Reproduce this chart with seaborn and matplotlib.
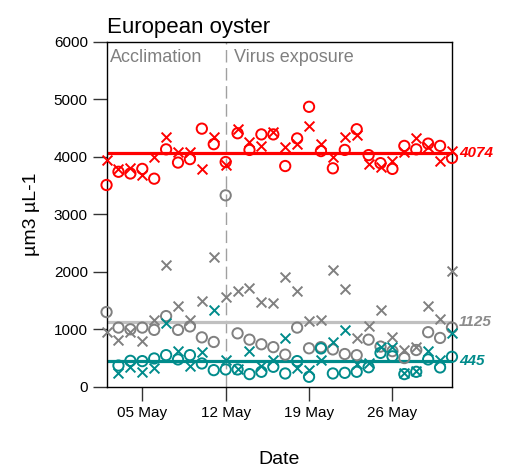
import numpy as np
import pandas as pd
import matplotlib
matplotlib.use("Agg")
import matplotlib.pyplot as plt
import matplotlib.dates as mdates
import seaborn as sns

# ---- data ----
dates = pd.date_range("2024-05-02", "2024-05-31", freq="D")

red_o = [3510, 3740, 3710, 3790, 3620, 4130, 3900, 3960, 4490, 4220, 3910, 4410, 4120, 4390, 4390,
         3840, 4320, 4870, 4100, 3800, 4120, 4480, 4030, 3890, 3790, 4190, 4130, 4230, 4190, 3980]
red_x = [3940, 3780, 3810, 3680, 3990, 4350, 4080, 4090, 3780, 4340, 3860, 4480, 4260, 4190, 4430,
         4170, 4220, 4540, 4230, 4000, 4340, 4380, 3870, 3830, 3930, 4080, 4330, 4170, 3920, 4100]
gray_o = [1300, 1030, 1000, 1030, 990, 1230, 990, 1050, 860, 780, 3330, 930, 820, 740, 690,
          560, 1030, 670, 690, 650, 570, 550, 820, 700, 620, 500, 640, 950, 850, 1030]
gray_x = [957, 812, 957, 800, 1165, 2110, 1400, 1165, 1500, 2250, 1565, 1670, 1711, 1478, 1461,
          1913, 1670, 1148, 1160, 2030, 1694, 841, 1056, 1334, 859, 638, 696, 1403, 1172, 2017]
teal_o = [np.nan, 370, 452, 447, 493, 551, 476, 551, 406, 290, 302, 302, 221, 261, 348,
          232, 447, 174, 668, 232, 243, 261, 340, 590, 530, 221, 261, 476, 337, 522]
teal_x = [np.nan, 232, 337, 261, 319, 1113, 626, 360, 609, 1334, 464, 310, 626, 360, 464,
          841, 319, 290, 464, 783, 986, 400, 420, 700, 700, 240, 280, 626, 464, 929]

means = [4074, 1125, 445]
mean_labels = ["4074", "1125", "445"]
groups = ["red", "gray", "teal"]
marker_colors = {"red": "#ff0000", "gray": "#808080", "teal": "#008b8b"}
line_colors = {"red": "#ff0000", "gray": "#c0c0c0", "teal": "#008b8b"}
label_colors = {"red": "#ff0000", "gray": "#8c8c8c", "teal": "#008b8b"}
yticks = [0, 1000, 2000, 3000, 4000, 5000, 6000]
xtick_days = [5, 12, 19, 26]

series = {("red", "o"): red_o, ("red", "x"): red_x,
          ("gray", "o"): gray_o, ("gray", "x"): gray_x,
          ("teal", "o"): teal_o, ("teal", "x"): teal_x}

rows = []
for (g, m), vals in series.items():
    for d, v in zip(dates, vals):
        rows.append({"Date": d, "value": v, "group": g, "rep": m})
df = pd.DataFrame(rows)

# ---- plot ----
sns.set_style("ticks")
plt.rcParams["font.family"] = ["Liberation Sans", "DejaVu Sans"]
plt.rcParams["text.color"] = "black"
plt.rcParams["axes.labelcolor"] = "black"
plt.rcParams["xtick.color"] = "black"
plt.rcParams["ytick.color"] = "black"

fig = plt.figure(figsize=(5.05, 4.70), dpi=100)
ax = fig.add_axes([0.211, 0.177, 0.684, 0.734])

for g in groups:
    c = marker_colors[g]
    sub_o = df[(df.group == g) & (df.rep == "o")]
    sub_x = df[(df.group == g) & (df.rep == "x")]
    sns.scatterplot(data=sub_o, x="Date", y="value", ax=ax, marker="o", s=55,
                    facecolors="none", edgecolors=c, linewidth=1.4, zorder=3, clip_on=False)
    sns.scatterplot(data=sub_x, x="Date", y="value", ax=ax, marker="x", s=50,
                    color=c, linewidth=1.4, zorder=3, clip_on=False)

for g, mval, lab in zip(groups, means, mean_labels):
    ax.axhline(mval, color=line_colors[g], lw=2.3, zorder=2)
    ax.text(1.02, mval, lab, transform=ax.get_yaxis_transform(), color=label_colors[g],
            fontsize=11, fontweight="bold", fontstyle="italic", va="center", ha="left")

split = pd.Timestamp("2024-05-12")
ax.axvline(split, color="#a0a0a0", lw=1, dashes=(9, 4), zorder=1)

ax.set_xlim(dates[0], dates[-1])
ax.set_ylim(0, 6000)
ax.set_yticks(yticks)
ax.xaxis.set_major_locator(mdates.DayLocator(bymonthday=xtick_days))
ax.xaxis.set_major_formatter(mdates.DateFormatter("%d %b"))

for s in ax.spines.values():
    s.set_visible(True)
    s.set_color("black")
    s.set_linewidth(1.0)
ax.tick_params(axis="both", direction="out", length=10, width=1, labelsize=11,
               color="#333333", labelcolor="black")
ax.tick_params(axis="x", pad=4)

ax.text(0.01, 0.98, "Acclimation", transform=ax.transAxes, color="#808080", fontsize=13,
        va="top", ha="left")
ax.text(split + pd.Timedelta(hours=16), 0.98 * 6000, "Virus exposure", color="#808080",
        fontsize=13, va="top", ha="left")

ax.set_xlabel("Date", fontsize=14, labelpad=22, color="black")
ax.set_ylabel("µm3 µL-1", fontsize=14, labelpad=10, color="black")
ax.set_title("European oyster", loc="left", fontsize=16, pad=6, color="black")

fig.savefig("out.png", dpi=100)
